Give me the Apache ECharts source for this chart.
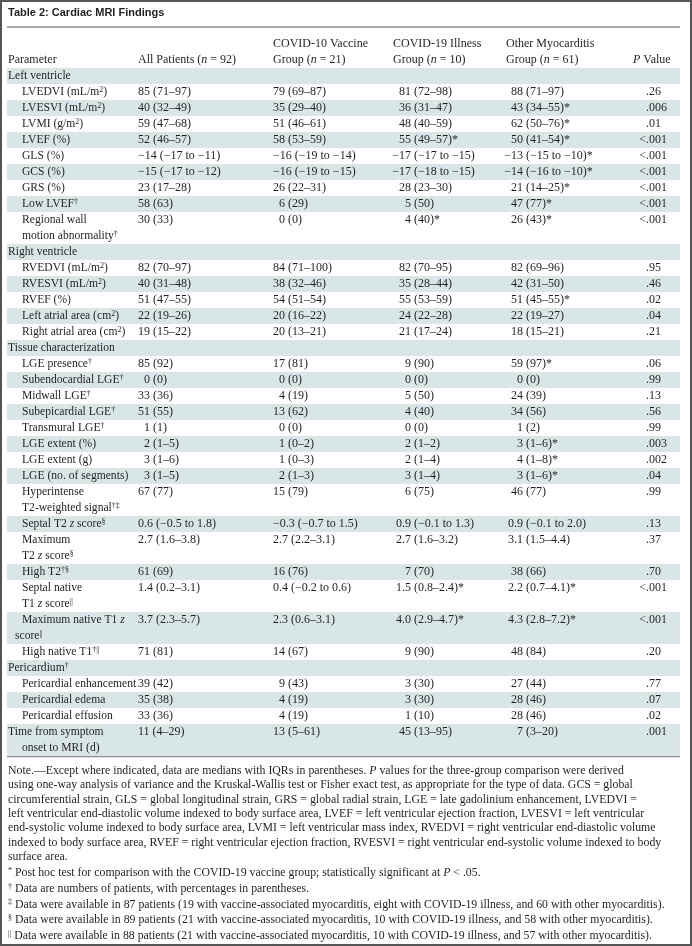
<!DOCTYPE html>
<html><head><meta charset="utf-8">
<script src="https://cdn.jsdelivr.net/npm/echarts@6/dist/echarts.min.js"></script>
<style>html,body{margin:0;padding:0;background:#fff}#c{width:692px;height:946px}</style>
</head><body><div id="c"></div><script>
// ---------- DATA ----------
const tableTitle = 'Table 2: Cardiac MRI Findings';
const headerLine1 = ['', '', 'COVID-10 Vaccine', 'COVID-19 Illness', 'Other Myocarditis', ''];
const headerLine2 = ['Parameter', 'All Patients (_n_ = 92)', 'Group (_n_ = 21)', 'Group (_n_ = 10)', 'Group (_n_ = 61)', '_P_ Value'];

// level 0 = section / top-level row, level 1 = indented item
const params = [
  'Left ventricle', 'LVEDVI (mL/m^2^)', 'LVESVI (mL/m^2^)', 'LVMI (g/m^2^)', 'LVEF (%)', 'GLS (%)', 'GCS (%)', 'GRS (%)',
  'Low LVEF^†^', 'Regional wall\nmotion abnormality^†^',
  'Right ventricle', 'RVEDVI (mL/m^2^)', 'RVESVI (mL/m^2^)', 'RVEF (%)', 'Left atrial area (cm^2^)', 'Right atrial area (cm^2^)',
  'Tissue characterization', 'LGE presence^†^', 'Subendocardial LGE^†^', 'Midwall LGE^†^', 'Subepicardial LGE^†^', 'Transmural LGE^†^',
  'LGE extent (%)', 'LGE extent (g)', 'LGE (no. of segments)', 'Hyperintense\nT2-weighted signal^†‡^', 'Septal T2 _z_ score^§^',
  'Maximum\nT2 _z_ score^§^', 'High T2^†§^', 'Septal native\nT1 _z_ score^||^', 'Maximum native T1 _z_\nscore^||^', 'High native T1^†||^',
  'Pericardium^†^', 'Pericardial enhancement', 'Pericardial edema', 'Pericardial effusion', 'Time from symptom\nonset to MRI (d)'
];
const levels = [0,1,1,1,1,1,1,1,1,1, 0,1,1,1,1,1, 0,1,1,1,1,1,1,1,1,1,1,1,1,1,1,1, 0,1,1,1, 0];
const allPatients = ['', '85 (71–97)', '40 (32–49)', '59 (47–68)', '52 (46–57)', '−14 (−17 to −11)', '−15 (−17 to −12)', '23 (17–28)', '58 (63)', '30 (33)',
  '', '82 (70–97)', '40 (31–48)', '51 (47–55)', '22 (19–26)', '19 (15–22)',
  '', '85 (92)', '0 (0)', '33 (36)', '51 (55)', '1 (1)', '2 (1–5)', '3 (1–6)', '3 (1–5)', '67 (77)', '0.6 (−0.5 to 1.8)', '2.7 (1.6–3.8)', '61 (69)', '1.4 (0.2–3.1)', '3.7 (2.3–5.7)', '71 (81)',
  '', '39 (42)', '35 (38)', '33 (36)', '11 (4–29)'];
const vaccineGroup = ['', '79 (69–87)', '35 (29–40)', '51 (46–61)', '58 (53–59)', '−16 (−19 to −14)', '−16 (−19 to −15)', '26 (22–31)', '6 (29)', '0 (0)',
  '', '84 (71–100)', '38 (32–46)', '54 (51–54)', '20 (16–22)', '20 (13–21)',
  '', '17 (81)', '0 (0)', '4 (19)', '13 (62)', '0 (0)', '1 (0–2)', '1 (0–3)', '2 (1–3)', '15 (79)', '−0.3 (−0.7 to 1.5)', '2.7 (2.2–3.1)', '16 (76)', '0.4 (−0.2 to 0.6)', '2.3 (0.6–3.1)', '14 (67)',
  '', '9 (43)', '4 (19)', '4 (19)', '13 (5–61)'];
const illnessGroup = ['', '81 (72–98)', '36 (31–47)', '48 (40–59)', '55 (49–57)*', '−17 (−17 to −15)', '−17 (−18 to −15)', '28 (23–30)', '5 (50)', '4 (40)*',
  '', '82 (70–95)', '35 (28–44)', '55 (53–59)', '24 (22–28)', '21 (17–24)',
  '', '9 (90)', '0 (0)', '5 (50)', '4 (40)', '0 (0)', '2 (1–2)', '2 (1–4)', '3 (1–4)', '6 (75)', '0.9 (−0.1 to 1.3)', '2.7 (1.6–3.2)', '7 (70)', '1.5 (0.8–2.4)*', '4.0 (2.9–4.7)*', '9 (90)',
  '', '3 (30)', '3 (30)', '1 (10)', '45 (13–95)'];
const otherGroup = ['', '88 (71–97)', '43 (34–55)*', '62 (50–76)*', '50 (41–54)*', '−13 (−15 to −10)*', '−14 (−16 to −10)*', '21 (14–25)*', '47 (77)*', '26 (43)*',
  '', '82 (69–96)', '42 (31–50)', '51 (45–55)*', '22 (19–27)', '18 (15–21)',
  '', '59 (97)*', '0 (0)', '24 (39)', '34 (56)', '1 (2)', '3 (1–6)*', '4 (1–8)*', '3 (1–6)*', '46 (77)', '0.9 (−0.1 to 2.0)', '3.1 (1.5–4.4)', '38 (66)', '2.2 (0.7–4.1)*', '4.3 (2.8–7.2)*', '48 (84)',
  '', '27 (44)', '28 (46)', '28 (46)', '7 (3–20)'];
const pValues = ['', '.26', '.006', '.01', '<.001', '<.001', '<.001', '<.001', '<.001', '<.001',
  '', '.95', '.46', '.02', '.04', '.21',
  '', '.06', '.99', '.13', '.56', '.99', '.003', '.002', '.04', '.99', '.13', '.37', '.70', '<.001', '<.001', '.20',
  '', '.77', '.07', '.02', '.001'];

const noteLines = [
  'Note.—Except where indicated, data are medians with IQRs in parentheses. _P_ values for the three-group comparison were derived',
  'using one-way analysis of variance and the Kruskal-Wallis test or Fisher exact test, as appropriate for the type of data. GCS = global',
  'circumferential strain, GLS = global longitudinal strain, GRS = global radial strain, LGE = late gadolinium enhancement, LVEDVI =',
  'left ventricular end-diastolic volume indexed to body surface area, LVEF = left ventricular ejection fraction, LVESVI = left ventricular',
  'end-systolic volume indexed to body surface area, LVMI = left ventricular mass index, RVEDVI = right ventricular end-diastolic volume',
  'indexed to body surface area, RVEF = right ventricular ejection fraction, RVESVI = right ventricular end-systolic volume indexed to body',
  'surface area.'
];
const footnotes = [
  '^*^ Post hoc test for comparison with the COVID-19 vaccine group; statistically significant at _P_ < .05.',
  '^†^ Data are numbers of patients, with percentages in parentheses.',
  '^‡^ Data were available in 87 patients (19 with vaccine-associated myocarditis, eight with COVID-19 illness, and 60 with other myocarditis).',
  '^§^ Data were available in 89 patients (21 with vaccine-associated myocarditis, 10 with COVID-19 illness, and 58 with other myocarditis).',
  '^||^ Data were available in 88 patients (21 with vaccine-associated myocarditis, 10 with COVID-19 illness, and 57 with other myocarditis).'
];

// ---------- STYLE / LAYOUT ----------
const SERIF = '"Liberation Serif", "Times New Roman", serif';
const SANS = '"Liberation Sans", Arial, sans-serif';
const FS = 12, LABEL_FS = 11.6, NOTE_FS = 11.8;
const INK = '#231f20', SHADE = '#d9e6e8', RULE = '#8c8c8c', FRAME = '#555555';
const LAY = {
  left: 7, right: 680, titleY: 13, ruleY: 27, head1Y: 44, head2Y: 60,
  bodyTop: 68, lineH: 16,
  xSection: 8, xItem: 22, xCont: {30: 15},
  headX: [8, 138, 273, 393, 506, 633],
  xCol2: 138, xCol3: 273, xCol4Paren: 414, xCol5Paren: 526, xPDot: 646,
  noteGap: 15, noteLineH: 14.3, footGap: 16.4, footLineH: 15.6
};

function rich(fs) {
  return {
    s: {fontSize: Math.round(fs * 0.68), fontFamily: SERIF, fill: INK, verticalAlign: 'top'},
    i: {fontSize: fs, fontFamily: SERIF, fill: INK, fontStyle: 'italic'}
  };
}
function fmt(s) {
  return s.replace(/\^([^^]+)\^/g, '{s|$1}').replace(/_([^_]+)_/g, '{i|$1}');
}
function textEl(x, y, s, align, fs, family, weight) {
  fs = fs || FS;
  return {type: 'text', silent: true, style: {
    text: fmt(s), x: x, y: y, align: align || 'left', verticalAlign: 'middle',
    fontFamily: family || SERIF, fontSize: fs, fontWeight: weight || 'normal', fill: INK, rich: rich(fs)
  }};
}
function splitAt(s, idx, x, y) {
  return [textEl(x, y, s.slice(0, idx), 'right'), textEl(x, y, s.slice(idx), 'left')];
}

const lineCount = params.map(p => p.split('\n').length);
const lineStart = [];
lineCount.reduce((acc, n, i) => { lineStart[i] = acc; return acc + n; }, 0);
const totalLines = lineCount.reduce((a, b) => a + b, 0);
const rows = params.map((p, i) => [i, lineStart[i], lineCount[i]]);

function renderItem(params_, api) {
  const i = api.value(0), start = api.value(1), n = api.value(2);
  const cs = params_.coordSys;
  const top = api.coord([0, start])[1];
  const bot = api.coord([0, start + n])[1];
  const lh = (bot - top) / n;
  const yc = top + lh / 2;
  const ch = [];
  if (i % 2 === 0) ch.push({type: 'rect', silent: true, shape: {x: cs.x, y: top, width: cs.width, height: bot - top}, style: {fill: SHADE}});
  params[i].split('\n').forEach((t, k) => {
    const x = k === 0 ? (levels[i] === 0 ? LAY.xSection : LAY.xItem) : (LAY.xCont[i] !== undefined ? LAY.xCont[i] : LAY.xItem);
    ch.push(textEl(x, top + lh * (k + 0.5), t, 'left', LABEL_FS));
  });
  const digitW = FS * 0.5;
  [[allPatients[i], LAY.xCol2], [vaccineGroup[i], LAY.xCol3]].forEach(([v, x]) => {
    if (!v) return;
    const off = /^\d /.test(v) ? digitW : 0;
    ch.push(textEl(x + off, yc, v));
  });
  [[illnessGroup[i], LAY.xCol4Paren], [otherGroup[i], LAY.xCol5Paren]].forEach(([v, x]) => {
    if (!v) return;
    const idx = v.indexOf(' (');
    splitAt(v, idx + 1, x, yc).forEach(e => ch.push(e));
  });
  if (pValues[i]) splitAt(pValues[i], pValues[i].indexOf('.'), LAY.xPDot, yc).forEach(e => ch.push(e));
  return {type: 'group', children: ch};
}

const bodyBottom = LAY.bodyTop + totalLines * LAY.lineH;
const graphics = [];
graphics.push({type: 'rect', silent: true, shape: {x: 1, y: 1, width: 690, height: 944}, style: {fill: 'none', stroke: FRAME, lineWidth: 2}});
graphics.push(textEl(LAY.xSection, LAY.titleY, tableTitle, 'left', 11, SANS, 'bold'));
graphics.push({type: 'line', silent: true, shape: {x1: LAY.left, y1: LAY.ruleY, x2: LAY.right, y2: LAY.ruleY}, style: {stroke: RULE, lineWidth: 1.5}});
headerLine1.forEach((h, c) => { if (h) graphics.push(textEl(LAY.headX[c], LAY.head1Y, h)); });
headerLine2.forEach((h, c) => { if (h) graphics.push(textEl(LAY.headX[c], LAY.head2Y, h)); });
graphics.push({type: 'line', silent: true, shape: {x1: LAY.left, y1: bodyBottom + 0.5, x2: LAY.right, y2: bodyBottom + 0.5}, style: {stroke: RULE, lineWidth: 1.5}});
noteLines.forEach((t, k) => graphics.push(textEl(LAY.xSection, bodyBottom + LAY.noteGap + k * LAY.noteLineH, t, 'left', NOTE_FS)));
const footTop = bodyBottom + LAY.noteGap + (noteLines.length - 1) * LAY.noteLineH + LAY.footGap;
footnotes.forEach((t, k) => graphics.push(textEl(LAY.xSection, footTop + k * LAY.footLineH, t, 'left', NOTE_FS)));

const chart = echarts.init(document.getElementById('c'), null, {renderer: 'canvas'});
chart.setOption({
  animation: false,
  backgroundColor: '#ffffff',
  grid: {left: LAY.left, top: LAY.bodyTop, width: LAY.right - LAY.left, height: totalLines * LAY.lineH},
  xAxis: {type: 'value', min: 0, max: 1, show: false},
  yAxis: {type: 'value', min: 0, max: totalLines, inverse: true, show: false},
  graphic: graphics,
  series: [{type: 'custom', renderItem: renderItem, data: rows, clip: false, silent: true}]
});
</script></body></html>
